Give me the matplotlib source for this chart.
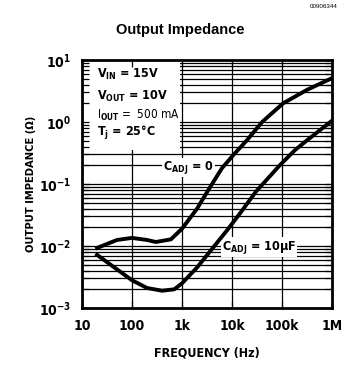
import matplotlib
matplotlib.use("Agg")
import matplotlib.pyplot as plt
from matplotlib.patches import Rectangle

# C_ADJ = 0
freq_0 = [20, 50, 100, 200, 300, 600, 1000, 2000, 3200, 6300, 10500, 20000, 40000, 105000, 316000, 1000000]
zout_0 = [0.0093, 0.0125, 0.0135, 0.0125, 0.0116, 0.0128, 0.019, 0.040, 0.075, 0.18, 0.29, 0.51, 1.0, 2.0, 3.3, 5.1]

# C_ADJ = 10uF
freq_10 = [20, 50, 100, 200, 400, 700, 1000, 2000, 4000, 8000, 15000, 30000, 90000, 180000, 320000, 1000000]
zout_10 = [0.0072, 0.0042, 0.0028, 0.0021, 0.0019, 0.0020, 0.0025, 0.0045, 0.009, 0.018, 0.035, 0.075, 0.2, 0.35, 0.51, 1.05]

x_ticks = [10, 100, 1e3, 1e4, 1e5, 1e6]
x_labels = ["10", "100", "1k", "10k", "100k", "1M"]
y_ticks = [1e-3, 1e-2, 1e-1, 1, 10]
y_labels = [r"$\mathbf{10^{-3}}$", r"$\mathbf{10^{-2}}$", r"$\mathbf{10^{-1}}$", r"$\mathbf{10^{0}}$", r"$\mathbf{10^{1}}$"]

MATH_FONT = "DejaVu Sans:weight=bold:stretch=condensed"
plt.rcParams.update({
    "font.family": ["DejaVu Sans"],
    "font.stretch": "condensed",
    "font.weight": "bold",
    "axes.labelweight": "bold",
    "mathtext.fontset": "custom",
    "mathtext.rm": MATH_FONT,
    "mathtext.bf": MATH_FONT,
    "mathtext.it": MATH_FONT,
})

fig = plt.figure(figsize=(3.5, 3.75), dpi=100)
ax = fig.add_axes([0.2343, 0.1787, 0.7143, 0.6613])
ax.set_xscale("log")
ax.set_yscale("log")
ax.set_xlim(10, 1e6)
ax.set_ylim(1e-3, 10)

# grid: every minor line on y, decades only on x
for e in range(-3, 1):
    for k in range(1, 10):
        ax.axhline(k * 10 ** e, color="black", linewidth=0.9, zorder=0.8)
for xv in x_ticks[1:-1]:
    ax.axvline(xv, color="black", linewidth=0.9, zorder=0.8)

# white panel behind the conditions block
ax.add_patch(Rectangle((10, 0.36), 900 - 10, 10 - 0.36, facecolor="white", edgecolor="none", zorder=1))

ax.plot(freq_0, zout_0, color="black", linewidth=2.8, zorder=3)
ax.plot(freq_10, zout_10, color="black", linewidth=2.8, zorder=3)

box = dict(facecolor="white", edgecolor="none", pad=1.0)
ax.text(420, 0.185, r"C$_\mathbf{ADJ}$ = 0", fontsize=9, va="center", ha="left", bbox=box, zorder=2)
ax.text(6300, 0.0095, r"C$_\mathbf{ADJ}$ = 10$\mathbf{\mu}$F", fontsize=9, va="center", ha="left", bbox=box, zorder=2)

ax.text(0.06, 0.94, r"V$_\mathbf{IN}$ = 15V", transform=ax.transAxes, fontsize=9, va="center", zorder=2)
ax.text(0.06, 0.852, r"V$_\mathbf{OUT}$ = 10V", transform=ax.transAxes, fontsize=9, va="center", zorder=2)
ax.text(0.06, 0.778, r"I$_\mathrm{OUT}$ =  500 mA", transform=ax.transAxes, fontsize=8.5, va="center",
        fontweight="normal", math_fontfamily="dejavusans", zorder=2)
ax.text(0.06, 0.706, r"T$_\mathbf{j}$ = 25°C", transform=ax.transAxes, fontsize=9, va="center", zorder=2)

ax.set_xticks(x_ticks)
ax.set_xticklabels(x_labels)
ax.set_yticks(y_ticks)
ax.set_yticklabels(y_labels)
ax.xaxis.set_minor_locator(matplotlib.ticker.NullLocator())
ax.yaxis.set_minor_locator(matplotlib.ticker.LogLocator(base=10, subs=range(2, 10)))
ax.yaxis.set_minor_formatter(matplotlib.ticker.NullFormatter())
ax.tick_params(which="both", direction="in", top=True, right=True, width=0.9, labelsize=10)
ax.tick_params(which="major", length=5, pad=8)
ax.tick_params(which="minor", length=5)
for sp in ax.spines.values():
    sp.set_linewidth(2)
    sp.set_zorder(4)

ax.set_xlabel("FREQUENCY (Hz)", fontsize=9, labelpad=10)
ax.set_ylabel("OUTPUT IMPEDANCE (Ω)", fontsize=8, labelpad=2)

fig.text(0.515, 0.92, "Output Impedance", ha="center", va="center", fontsize=10.5,
         fontweight="bold", fontstretch="normal", family=["Liberation Sans", "DejaVu Sans"])
fig.text(0.965, 0.99, "00906344", ha="right", va="top", fontsize=4.5, fontweight="normal",
         fontstretch="normal", family=["Liberation Sans", "DejaVu Sans"])

fig.savefig("out.png", dpi=100)
